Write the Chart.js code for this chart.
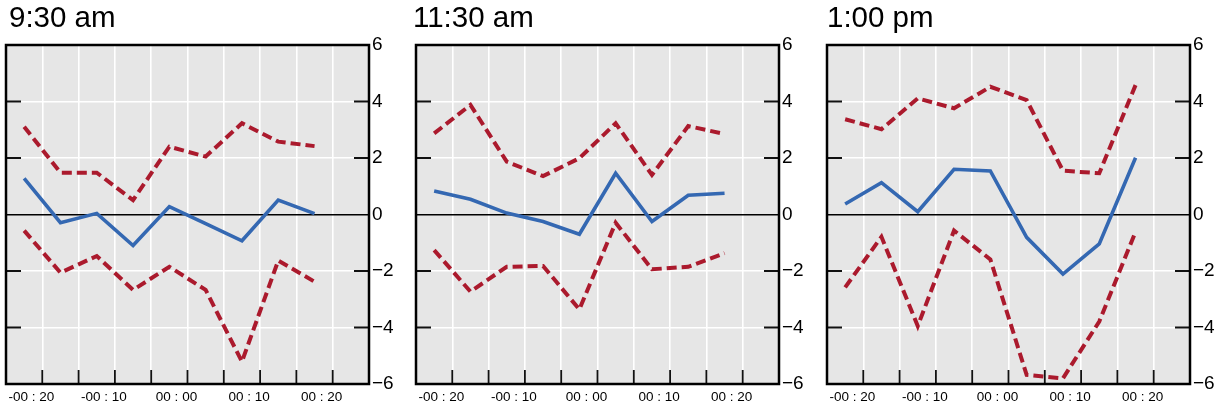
<!DOCTYPE html>
<html>
<head>
<meta charset="utf-8">
<script src="https://cdn.jsdelivr.net/npm/chart.js@4.4.1/dist/chart.umd.min.js"></script>
<style>
  html, body { margin: 0; padding: 0; background: #fff; }
  body { width: 1228px; height: 410px; position: relative; overflow: hidden;
         font-family: "Liberation Sans", Arial, sans-serif; }
  .panel { position: absolute; top: 0; width: 410px; height: 410px; }
  .panel h2 { position: absolute; top: 2px; margin: 0; font-weight: normal;
              font-size: 29.5px; line-height: 29.5px; color: #000; white-space: nowrap; }
  .panel canvas { position: absolute; left: 0; top: 0; }
</style>
</head>
<body>
<div id="charts"></div>
<script>
// === Data ===
const panelTitles = ["9:30 am", "11:30 am", "1:00 pm"];
const minutes = [-22.5, -17.5, -12.5, -7.5, -2.5, 2.5, 7.5, 12.5, 17.5];

const central0930 = [1.28, -0.29, 0.04, -1.10, 0.28, -0.32, -0.93, 0.51, 0.03];
const upper0930   = [3.11, 1.48, 1.48, 0.51, 2.40, 2.05, 3.23, 2.58, 2.42];
const lower0930   = [-0.57, -2.06, -1.47, -2.67, -1.85, -2.67, -5.21, -1.63, -2.38];

const central1130 = [0.83, 0.54, 0.05, -0.25, -0.70, 1.46, -0.25, 0.68, 0.75];
const upper1130   = [2.87, 3.88, 1.87, 1.36, 1.99, 3.23, 1.40, 3.13, 2.85];
const lower1130   = [-1.26, -2.73, -1.85, -1.82, -3.36, -0.29, -1.94, -1.85, -1.37];

const central1300 = [0.37, 1.13, 0.10, 1.60, 1.54, -0.81, -2.11, -1.04, 2.01];
const upper1300   = [3.37, 3.02, 4.11, 3.76, 4.52, 4.05, 1.55, 1.46, 4.58];
const lower1300   = [-2.58, -0.79, -3.95, -0.57, -1.59, -5.68, -5.80, -3.79, -0.61];

const xGridValues = [-20, -15, -10, -5, 0, 5, 10, 15, 20];
const xTickValues = [-20, -10, 0, 10, 20];
const xTickLabels = ["-00 : 20", "-00 : 10", "00 : 00", "00 : 10", "00 : 20"];
const yTickValues = [-6, -4, -2, 0, 2, 4, 6];
const yTickLabels = ["\u22126", "\u22124", "\u22122", "0", "2", "4", "6"];

// === Layout ===
const panelLefts = [0, 410, 821];
const titleLefts = [9, 3, 6];
const BLUE = "#3468b2";
const RED = "#ab1a2d";

const toPoints = (vals) => minutes.map((m, i) => ({ x: m, y: vals[i] }));

// grå plotyta, ram och inåtvända tickmarkeringar
const plotDecor = {
  id: "plotDecor",
  beforeDraw(chart) {
    const { ctx, chartArea: a } = chart;
    ctx.save();
    ctx.fillStyle = "#e6e6e6";
    ctx.fillRect(a.left, a.top, a.width, a.height);
    ctx.restore();
  },
  afterDraw(chart) {
    const { ctx, chartArea: a, scales } = chart;
    ctx.save();
    ctx.strokeStyle = "#111";
    ctx.lineWidth = 1.8;
    ctx.beginPath();
    xGridValues.forEach((v) => {
      const x = scales.x.getPixelForValue(v);
      ctx.moveTo(x, a.bottom);
      ctx.lineTo(x, a.bottom - 14);
    });
    yTickValues.filter((v) => v !== 0 && Math.abs(v) < 6).forEach((v) => {
      const y = scales.y.getPixelForValue(v);
      ctx.moveTo(a.left, y);
      ctx.lineTo(a.left + 15, y);
      ctx.moveTo(a.right, y);
      ctx.lineTo(a.right - 15, y);
    });
    ctx.stroke();
    ctx.lineWidth = 2.5;
    ctx.strokeStyle = "#000";
    ctx.strokeRect(a.left, a.top, a.width, a.height);
    ctx.restore();
  },
};

const series = [
  [central0930, upper0930, lower0930],
  [central1130, upper1130, lower1130],
  [central1300, upper1300, lower1300],
];

const holder = document.getElementById("charts");

series.forEach(([central, upper, lower], p) => {
  const panel = document.createElement("div");
  panel.className = "panel";
  panel.style.left = panelLefts[p] + "px";
  panel.innerHTML = `<canvas width="410" height="410"></canvas><h2 style="left:${titleLefts[p]}px">${panelTitles[p]}</h2>`;
  holder.appendChild(panel);

  const ctx = panel.querySelector("canvas").getContext("2d");
  new Chart(ctx, {
    type: "line",
    data: {
      datasets: [
        {
          data: toPoints(upper),
          borderColor: RED, borderWidth: 4, borderDash: [10, 5],
          pointRadius: 0, tension: 0, fill: false,
        },
        {
          data: toPoints(lower),
          borderColor: RED, borderWidth: 4, borderDash: [10, 5],
          pointRadius: 0, tension: 0, fill: false,
        },
        {
          data: toPoints(central),
          borderColor: BLUE, borderWidth: 3.6,
          pointRadius: 0, tension: 0, fill: false,
        },
      ],
    },
    options: {
      responsive: false,
      animation: false,
      devicePixelRatio: 1,
      layout: { padding: { left: 6, top: 45, right: 0, bottom: 0 } },
      plugins: { legend: { display: false }, tooltip: { enabled: false } },
      scales: {
        x: {
          type: "linear",
          min: -25, max: 25,
          afterBuildTicks: (s) => { s.ticks = xGridValues.map((v) => ({ value: v })); },
          afterFit: (s) => { s.height = 26; },
          border: { display: false },
          grid: { color: "#ffffff", lineWidth: 1.6, drawTicks: false },
          ticks: {
            padding: 5,
            labelOffset: -11,
            color: "#000",
            font: { family: "'Liberation Sans', Arial, sans-serif", size: 13.5 },
            maxRotation: 0,
            autoSkip: false,
            callback: (v) => {
              const i = xTickValues.indexOf(v);
              return i >= 0 ? xTickLabels[i] : "";
            },
          },
        },
        y: {
          position: "right",
          min: -6, max: 6,
          afterBuildTicks: (s) => { s.ticks = yTickValues.map((v) => ({ value: v })); },
          afterFit: (s) => { s.width = 41; },
          border: { display: false },
          grid: {
            drawTicks: false,
            lineWidth: 1.6,
            color: (c) => (c.tick.value === 0 ? "#000" : Math.abs(c.tick.value) === 6 ? "rgba(0,0,0,0)" : "#ffffff"),
          },
          ticks: {
            padding: 3,
            color: "#000",
            font: { family: "'Liberation Sans', Arial, sans-serif", size: 19 },
            callback: (v) => yTickLabels[yTickValues.indexOf(v)],
          },
        },
      },
    },
    plugins: [plotDecor],
  });
});
</script>
</body>
</html>
